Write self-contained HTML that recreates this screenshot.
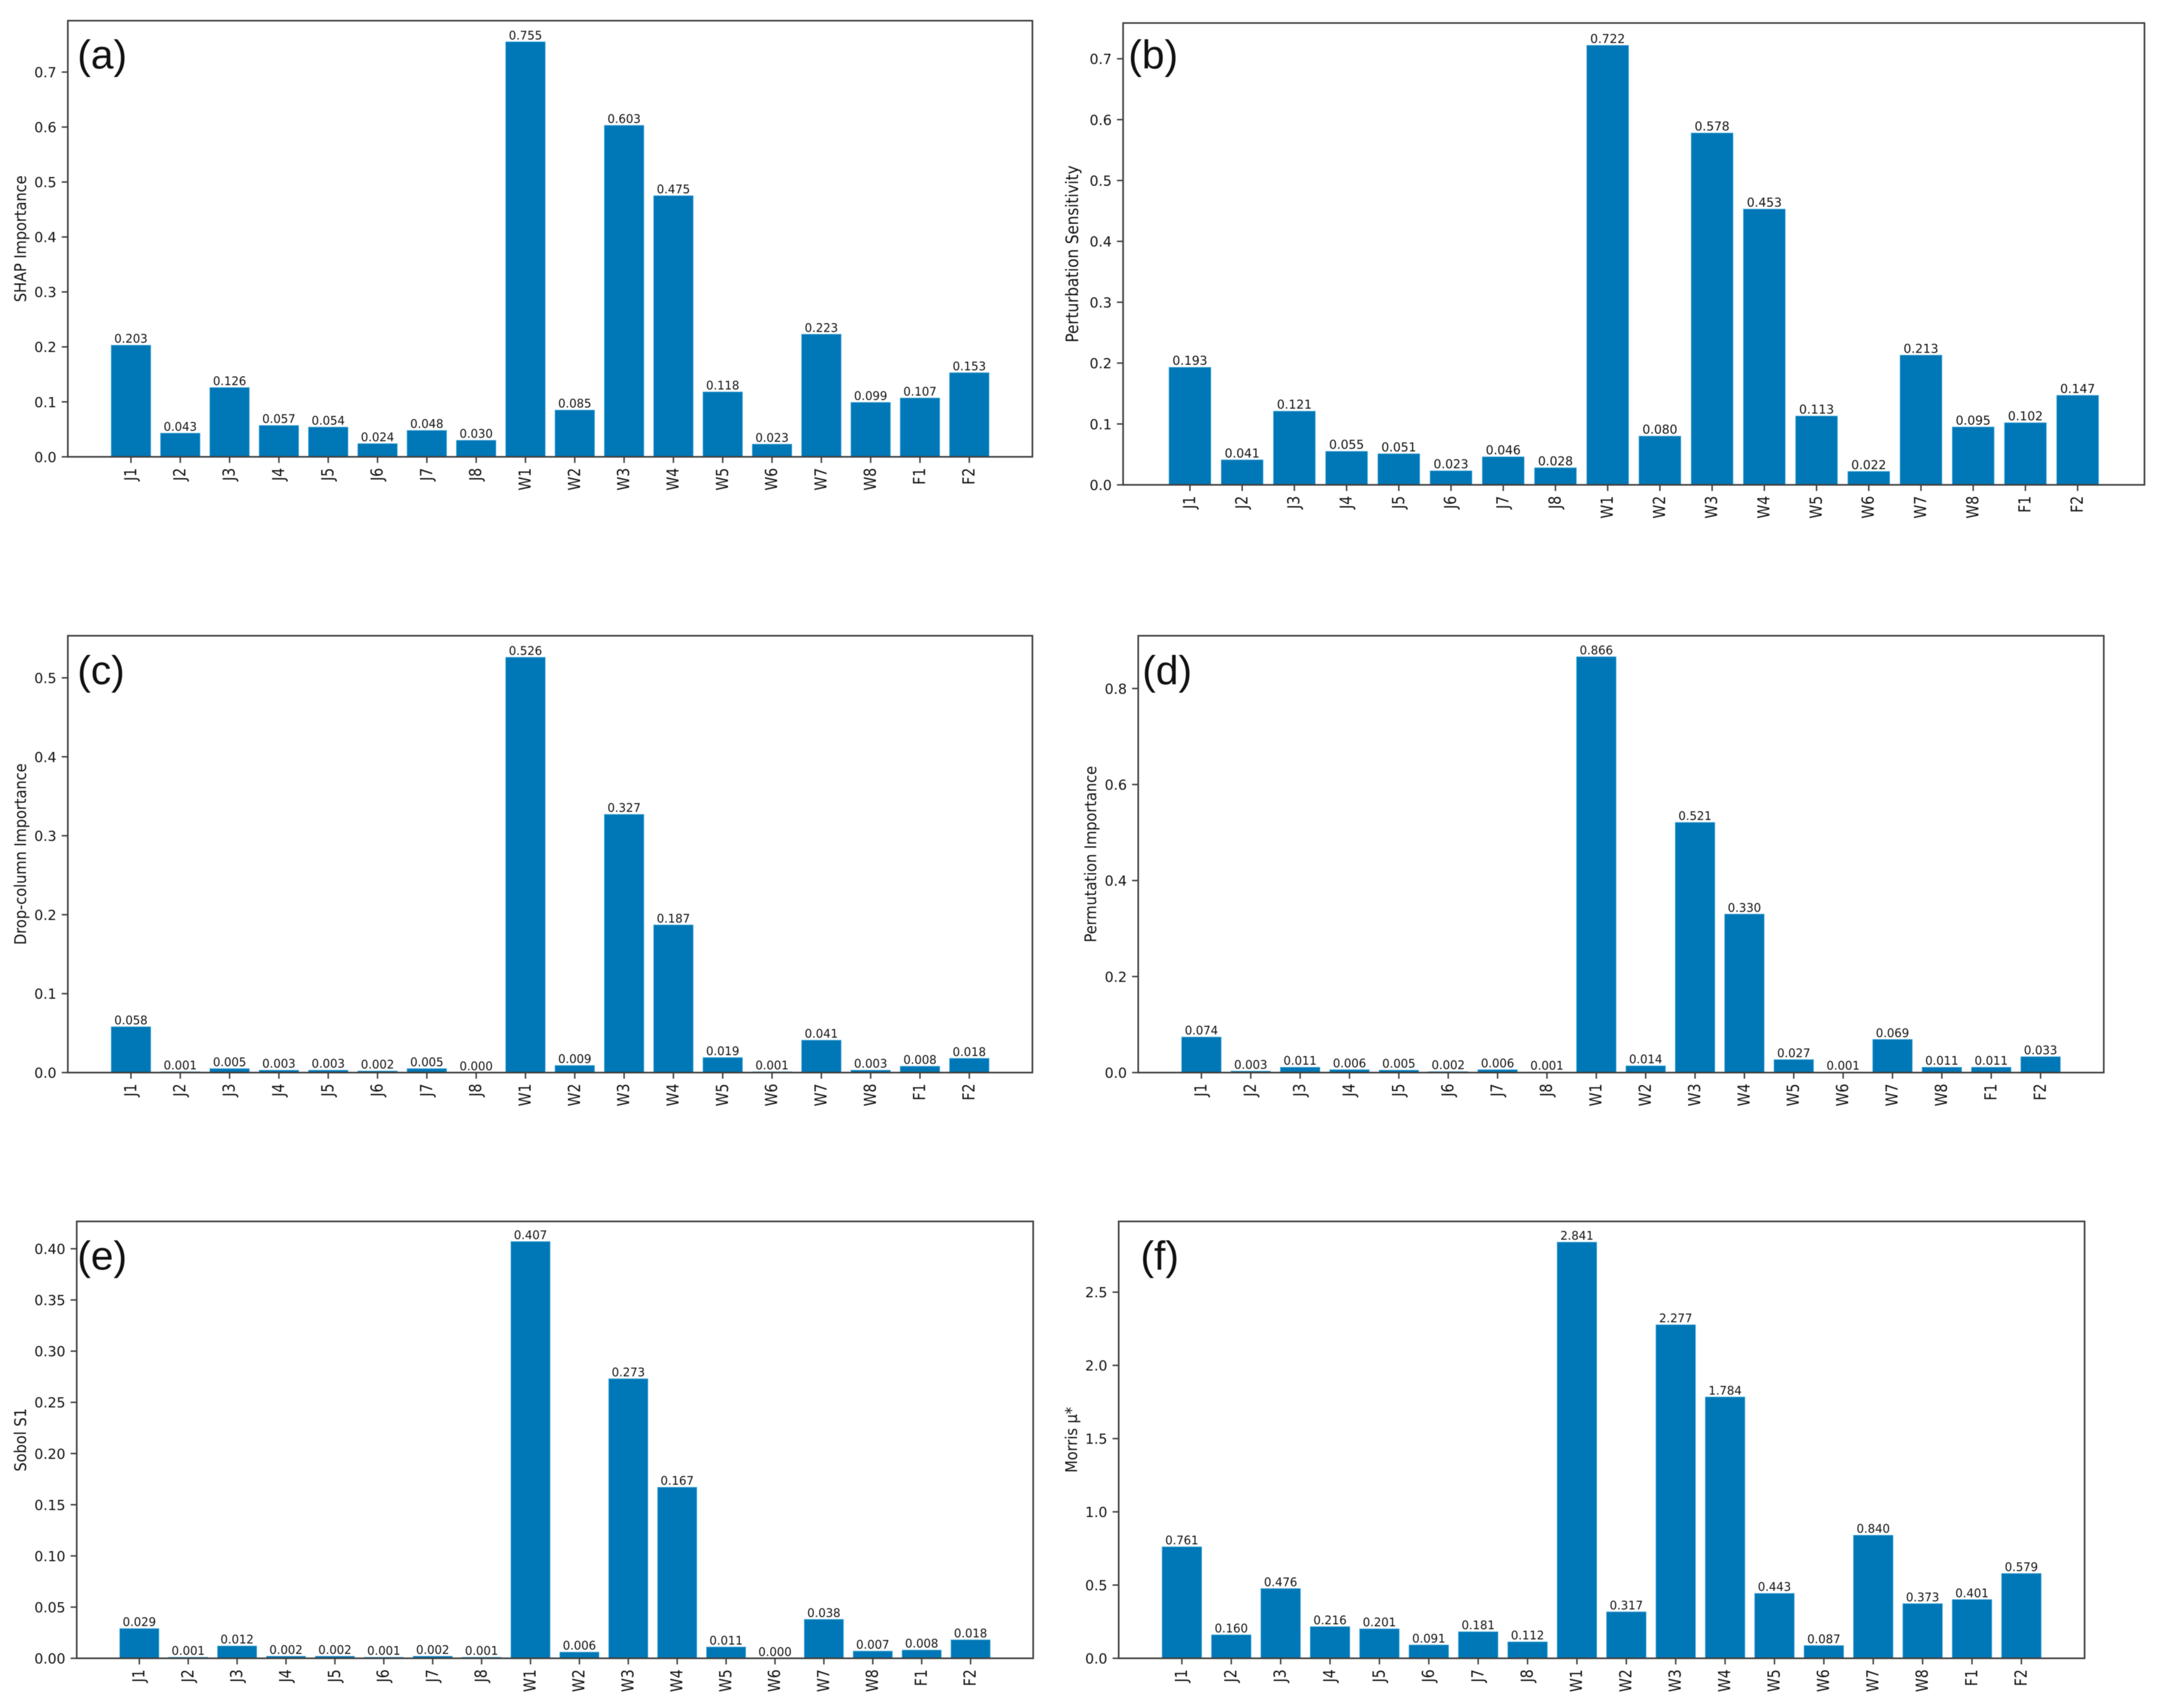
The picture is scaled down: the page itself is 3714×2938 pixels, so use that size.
<!DOCTYPE html>
<html lang="en">
<head>
<meta charset="utf-8">
<title>Feature importance comparison</title>
<style>
  html, body { margin: 0; padding: 0; background: #ffffff; }
  #figure { display: block; width: 3714px; height: 2938px; filter: blur(0.6px); }
  #figure text { font-family: "DejaVu Sans", "Liberation Sans", sans-serif; fill: #151515; }
  #figure text.panel-letter { font-family: "Liberation Sans", sans-serif; fill: #111111; }
</style>
</head>
<body>
<svg id="figure" xmlns="http://www.w3.org/2000/svg" width="3714" height="2938" viewBox="0 0 3714 2938">
  <rect x="0" y="0" width="3714" height="2938" fill="#ffffff"></rect>
</svg>
<script>
const categories = ["J1","J2","J3","J4","J5","J6","J7","J8","W1","W2","W3","W4","W5","W6","W7","W8","F1","F2"];

const shapValues = [0.203,0.043,0.126,0.057,0.054,0.024,0.048,0.030,0.755,0.085,0.603,0.475,0.118,0.023,0.223,0.099,0.107,0.153];
const perturbationValues = [0.193,0.041,0.121,0.055,0.051,0.023,0.046,0.028,0.722,0.080,0.578,0.453,0.113,0.022,0.213,0.095,0.102,0.147];
const dropColumnValues = [0.058,0.001,0.005,0.003,0.003,0.002,0.005,0.000,0.526,0.009,0.327,0.187,0.019,0.001,0.041,0.003,0.008,0.018];
const permutationValues = [0.074,0.003,0.011,0.006,0.005,0.002,0.006,0.001,0.866,0.014,0.521,0.330,0.027,0.001,0.069,0.011,0.011,0.033];
const sobolValues = [0.029,0.001,0.012,0.002,0.002,0.001,0.002,0.001,0.407,0.006,0.273,0.167,0.011,0.000,0.038,0.007,0.008,0.018];
const morrisValues = [0.761,0.160,0.476,0.216,0.201,0.091,0.181,0.112,2.841,0.317,2.277,1.784,0.443,0.087,0.840,0.373,0.401,0.579];

const shapTicks = ["0.0","0.1","0.2","0.3","0.4","0.5","0.6","0.7"];
const perturbationTicks = ["0.0","0.1","0.2","0.3","0.4","0.5","0.6","0.7"];
const dropColumnTicks = ["0.0","0.1","0.2","0.3","0.4","0.5"];
const permutationTicks = ["0.0","0.2","0.4","0.6","0.8"];
const sobolTicks = ["0.00","0.05","0.10","0.15","0.20","0.25","0.30","0.35","0.40"];
const morrisTicks = ["0.0","0.5","1.0","1.5","2.0","2.5"];

const panels = [
  { id: "a", title: "SHAP Importance", values: shapValues, ticks: shapTicks, yMax: 0.7935,
    left: 116.7, right: 1776, top: 35.6, bottom: 785.8, labelX: 44.5, letterX: 133, letterY: 118, valueFont: 20, titleFont: 25 },
  { id: "b", title: "Perturbation Sensitivity", values: perturbationValues, ticks: perturbationTicks, yMax: 0.7587,
    left: 1932, right: 3689, top: 39.6, bottom: 834, labelX: 1854.5, letterX: 1941, letterY: 118, valueFont: 21, titleFont: 26 },
  { id: "c", title: "Drop-column Importance", values: dropColumnValues, ticks: dropColumnTicks, yMax: 0.5533,
    left: 116.7, right: 1776, top: 1093.6, bottom: 1845, labelX: 44.5, letterX: 133, letterY: 1177, valueFont: 20, titleFont: 25 },
  { id: "d", title: "Permutation Importance", values: permutationValues, ticks: permutationTicks, yMax: 0.9098,
    left: 1958, right: 3619, top: 1093.6, bottom: 1845, labelX: 1885.5, letterX: 1965, letterY: 1177, valueFont: 20, titleFont: 25 },
  { id: "e", title: "Sobol S1", values: sobolValues, ticks: sobolTicks, yMax: 0.4267,
    left: 132, right: 1777.3, top: 2101, bottom: 2852.5, labelX: 44.5, letterX: 133, letterY: 2184, valueFont: 20, titleFont: 25 },
  { id: "f", title: "Morris \u03BC*", values: morrisValues, ticks: morrisTicks, yMax: 2.983,
    left: 1924.4, right: 3586, top: 2101, bottom: 2852.5, labelX: 1852.5, letterX: 1962, letterY: 2184, valueFont: 20, titleFont: 25 }
];

const svgNS = "http://www.w3.org/2000/svg";
const figure = document.getElementById("figure");
const xDomainMin = -1.28;
const xDomainMax = 18.28;
const barUnits = 0.8;
const barColor = "#0077b6";
const barEdge = "#3ea6da";
const axisColor = "#404040";

function make(tag, attrs, parent) {
  const el = document.createElementNS(svgNS, tag);
  for (const key in attrs) el.setAttribute(key, attrs[key]);
  parent.appendChild(el);
  return el;
}

function drawPanel(panel) {
  const g = make("g", {}, figure);
  
  

  const unit = (panel.right - panel.left) / (xDomainMax - xDomainMin);
  const xScale = function (i) { return panel.left + (i - xDomainMin) * unit; };
  const yScale = function (v) { return panel.bottom - (v / panel.yMax) * (panel.bottom - panel.top); };

  panel.values.forEach(function (value, i) {
    const cx = xScale(i);
    const w = barUnits * unit;
    const top = yScale(value);
    const bar = make("rect", { x: cx - w / 2, y: top, width: w, height: panel.bottom - top, fill: barColor, stroke: barEdge, "stroke-width": 1 }, g);
    
    

    const label = make("text", { x: cx, y: top - 4.2, "text-anchor": "middle", "font-size": panel.valueFont }, g);
    label.textContent = value.toFixed(3);
    
    

    const tick = make("line", { x1: cx, x2: cx, y1: panel.bottom, y2: panel.bottom + 10.5, stroke: axisColor, "stroke-width": 2.5 }, g);
    
    

    const tx = cx + 9;
    const ty = panel.bottom + 19;
    const tickLabel = make("text", { x: 0, y: 0, "text-anchor": "end", "font-size": 24, transform: "translate(" + tx + " " + ty + ") rotate(-90) scale(1 1.18)" }, g);
    tickLabel.textContent = categories[i];
    
    
  });

  panel.ticks.forEach(function (text) {
    const y = yScale(parseFloat(text));
    const tick = make("line", { x1: panel.left - 10.5, x2: panel.left, y1: y, y2: y, stroke: axisColor, "stroke-width": 2.5 }, g);
    
    

    const label = make("text", { x: panel.left - 19.5, y: y + 9, "text-anchor": "end", "font-size": 24 }, g);
    label.textContent = text;
    
    
  });

  const frame = make("rect", { x: panel.left, y: panel.top, width: panel.right - panel.left, height: panel.bottom - panel.top, fill: "none", stroke: axisColor, "stroke-width": 2.8 }, g);
  
  

  const midY = (panel.top + panel.bottom) / 2;
  const title = make("text", { x: 0, y: 0, "text-anchor": "middle", "font-size": panel.titleFont, transform: "translate(" + panel.labelX + " " + midY + ") rotate(-90) scale(1 1.12)" }, g);
  title.textContent = panel.title;
  
  

  const letter = make("text", { x: panel.letterX, y: panel.letterY, "font-size": 70, "class": "panel-letter" }, g);
  letter.textContent = "(" + panel.id + ")";
  
  
}

panels.forEach(drawPanel);
</script>
</body>
</html>
